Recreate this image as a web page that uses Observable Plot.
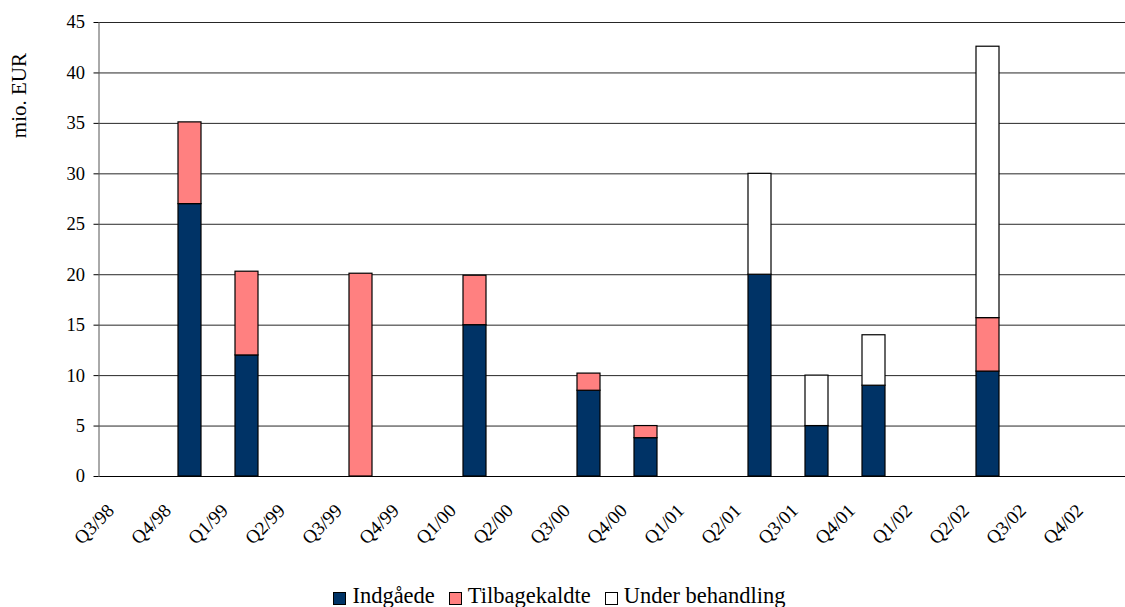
<!DOCTYPE html>
<html>
<head>
<meta charset="utf-8">
<script src="https://cdn.jsdelivr.net/npm/d3@7"></script>
<script src="https://cdn.jsdelivr.net/npm/@observablehq/plot@0.6"></script>
<style>
  body { margin: 0; background: #fff; font-family: "Liberation Serif", "Times New Roman", "Times", "DejaVu Serif", serif; }
  #wrap { position: relative; width: 1125px; height: 607px; overflow: hidden; }
  #ylabel { position: absolute; left: 9px; top: 53px; font-size: 21px; color: #000; line-height: 1;
            writing-mode: vertical-rl; transform: rotate(180deg); white-space: nowrap; }
  #legend { position: absolute; left: 0; top: 585px; width: 1125px; display: flex; justify-content: center;
            font-size: 22.5px; line-height: 1; color: #000; padding-right: 6px; box-sizing: border-box; }
  .item { display: flex; align-items: center; margin: 0 7px; }
  .sw { width: 13px; height: 13px; border: 1px solid #000; margin-right: 6px; box-sizing: border-box; position: relative; top: 2px; }
</style>
</head>
<body>
<div id="wrap">
  <div id="chart"></div>
  <div id="ylabel">mio. EUR</div>
  <div id="legend"></div>
</div>
<script>
const quarters = ["Q3/98","Q4/98","Q1/99","Q2/99","Q3/99","Q4/99","Q1/00","Q2/00","Q3/00","Q4/00","Q1/01","Q2/01","Q3/01","Q4/01","Q1/02","Q2/02","Q3/02","Q4/02"];
const indgaaede       = [0, 27, 12, 0, 0,    0, 15, 0, 8.5, 3.8, 0, 20, 5, 9, 0, 10.4, 0, 0];
const tilbagekaldte   = [0, 8.1, 8.3, 0, 20.1, 0, 4.9, 0, 1.7, 1.2, 0, 0, 0, 0, 0, 5.3, 0, 0];
const underBehandling = [0, 0, 0, 0, 0,    0, 0, 0, 0, 0, 0, 10, 5, 5, 0, 26.9, 0, 0];
const seriesNames = ["Indgåede", "Tilbagekaldte", "Under behandling"];
const seriesColors = ["#003366", "#FF8080", "#FFFFFF"];
const yTicks = [0,5,10,15,20,25,30,35,40,45];

const seriesValues = [indgaaede, tilbagekaldte, underBehandling];
const data = [];
seriesNames.forEach((s, si) => {
  quarters.forEach((q, qi) => {
    const v = seriesValues[si][qi];
    if (v > 0) data.push({q, s, v});
  });
});

const serif = "'Liberation Serif', 'Times New Roman', Times, 'DejaVu Serif', serif";

const chart = Plot.plot({
  width: 1125,
  height: 578,
  marginLeft: 98.5,
  marginRight: 0,
  marginTop: 22,
  marginBottom: 102,
  style: {fontFamily: serif, fontSize: "18px", color: "#000", background: "#fff"},
  x: {type: "band", domain: quarters, range: [99.5, 1134.5], paddingInner: 0.6, paddingOuter: 0.3, label: null},
  y: {domain: [0, 45], label: null},
  color: {domain: seriesNames, range: seriesColors},
  marks: [
    Plot.ruleY(yTicks.filter(d => d > 0), {stroke: "#000", strokeOpacity: 0.85, strokeWidth: 1}),
    Plot.barY(data, Plot.stackY({x: "q", y: "v", fill: "s", stroke: "#000", strokeWidth: 1.2, order: seriesNames})),
    Plot.ruleY([0], {stroke: "#000", strokeWidth: 1}),
    Plot.frame({anchor: "left", stroke: "#555"}),
    Plot.axisY({ticks: yTicks, tickSize: 5, tickPadding: 9, fontSize: 18.5, fontFamily: serif, tickFormat: d => d, label: null}),
    Plot.axisX({tickSize: 0, tickRotate: -45, tickPadding: 31, dx: -22, fontSize: 19, fontFamily: serif, label: null})
  ]
});
document.getElementById("chart").appendChild(chart);

const legend = document.getElementById("legend");
seriesNames.forEach((s, i) => {
  const item = document.createElement("div");
  item.className = "item";
  const sw = document.createElement("div");
  sw.className = "sw";
  sw.style.background = seriesColors[i];
  item.appendChild(sw);
  item.appendChild(document.createTextNode(s));
  legend.appendChild(item);
});
</script>
</body>
</html>
